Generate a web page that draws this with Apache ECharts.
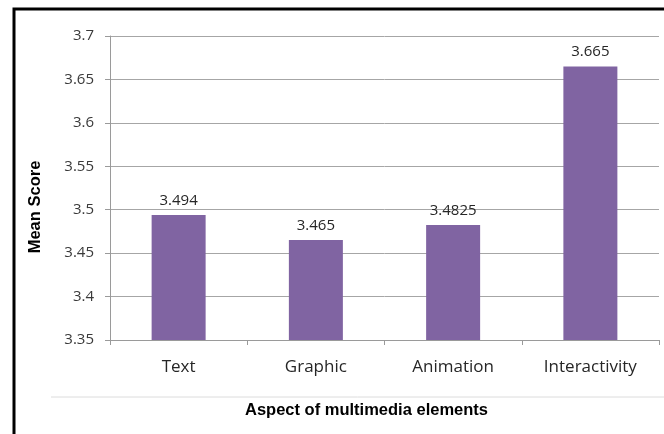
<!DOCTYPE html>
<html><head><meta charset="utf-8">
<script src="https://cdn.jsdelivr.net/npm/echarts@6/dist/echarts.min.js"></script>
<style>html,body{margin:0;padding:0;background:#fff;}#c{width:664px;height:434px;}</style>
</head><body><div id="c"></div>
<script>
const categories = ['Text', 'Graphic', 'Animation', 'Interactivity'];
const meanScores = [3.494, 3.465, 3.4825, 3.665];
const valueLabels = ['3.494', '3.465', '3.4825', '3.665'];
const yTicks = [3.35, 3.4, 3.45, 3.5, 3.55, 3.6, 3.65, 3.7];

const chart = echarts.init(document.getElementById('c'), null, {renderer: 'canvas'});
const FONT = 'Open Sans';
chart.setOption({
  animation: false,
  grid: {left: 110, right: 5, top: 36, bottom: 94},
  graphic: [
    {type: 'rect', shape: {x: 14, y: 9, width: 700, height: 500}, style: {fill: 'none', stroke: '#000', lineWidth: 3}, silent: true},
    {type: 'line', shape: {x1: 51, y1: 397, x2: 664, y2: 397}, style: {stroke: '#dcdcdc', lineWidth: 1}, silent: true}
  ],
  xAxis: {
    type: 'category',
    data: categories,
    name: 'Aspect of multimedia elements',
    nameLocation: 'middle',
    nameGap: 62,
    nameTextStyle: {fontFamily: 'Liberation Sans', fontWeight: 'bold', fontSize: 16.5, color: '#000', padding: [0, 36, 0, 0]},
    axisLine: {lineStyle: {color: '#9a9a9a', width: 1}},
    axisTick: {show: true, length: 5, lineStyle: {color: '#9a9a9a'}},
    axisLabel: {fontFamily: FONT, fontSize: 17, color: '#262626', margin: 19}
  },
  yAxis: {
    type: 'value',
    min: 3.35, max: 3.7, interval: 0.05,
    name: 'Mean Score',
    nameLocation: 'middle',
    nameGap: 66,
    nameRotate: 90,
    nameTextStyle: {fontFamily: 'Liberation Sans', fontWeight: 'bold', fontSize: 16.5, color: '#000', padding: [0, 38, 0, 0]},
    axisLine: {show: true, lineStyle: {color: '#9a9a9a', width: 1}},
    axisTick: {show: true, length: 5, inside: false, lineStyle: {color: '#9a9a9a'}},
    splitLine: {show: true, lineStyle: {color: '#a6a6a6', width: 1}},
    axisLabel: {
      fontFamily: FONT, fontSize: 15, color: '#3a3a3a', margin: 16,
      formatter: function (v) {
        const t = yTicks.find(x => Math.abs(x - v) < 1e-9);
        return t === undefined ? '' : String(parseFloat(t.toFixed(2)));
      }
    }
  },
  series: [{
    type: 'bar',
    data: meanScores,
    barWidth: 54,
    itemStyle: {color: '#8064a2'},
    label: {
      show: true, position: 'top', distance: 7,
      fontFamily: FONT, fontSize: 15, color: '#262626',
      formatter: function (p) { return valueLabels[p.dataIndex]; }
    }
  }]
});
</script></body></html>
